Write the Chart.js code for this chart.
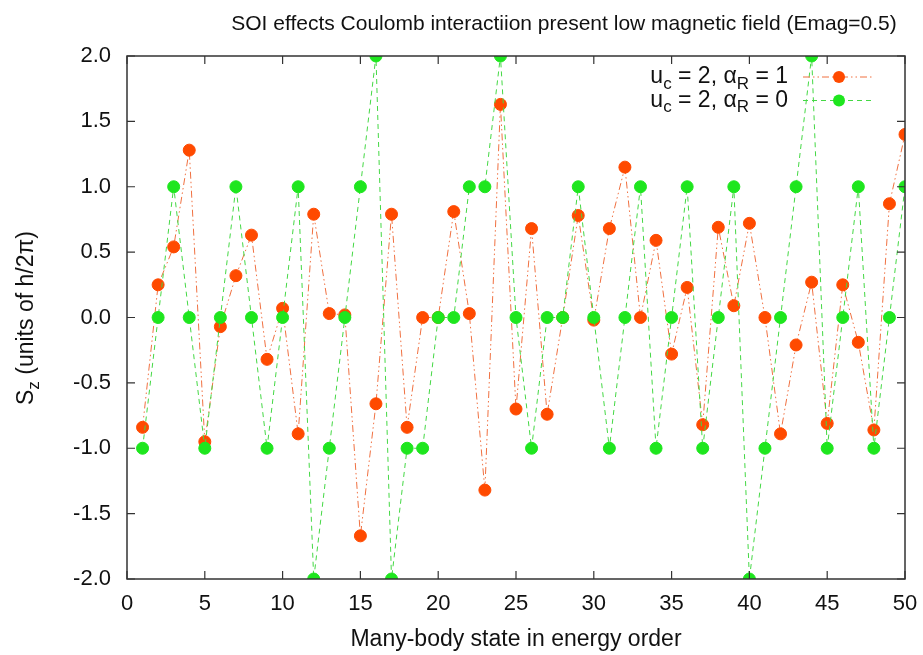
<!DOCTYPE html>
<html>
<head>
<meta charset="utf-8">
<script src="https://cdn.jsdelivr.net/npm/chart.js@4"></script>
<style>
  body { margin: 0; background: #fff; }
</style>
</head>
<body>
<canvas id="myChart" width="923" height="655"></canvas>
<script>
// state index 1..50
const states = [1,2,3,4,5,6,7,8,9,10,11,12,13,14,15,16,17,18,19,20,21,22,23,24,25,
  26,27,28,29,30,31,32,33,34,35,36,37,38,39,40,41,42,43,44,45,46,47,48,49,50];

// u_c = 2, alpha_R = 1
const szRashba = [-0.84, 0.25, 0.54, 1.28, -0.95, -0.07, 0.32, 0.63, -0.32, 0.07,
  -0.89, 0.79, 0.03, 0.02, -1.67, -0.66, 0.79, -0.84, 0.0, 0.0,
  0.81, 0.03, -1.32, 1.63, -0.70, 0.68, -0.74, 0.0, 0.78, -0.02,
  0.68, 1.15, 0.0, 0.59, -0.28, 0.23, -0.82, 0.69, 0.09, 0.72,
  0.0, -0.89, -0.21, 0.27, -0.81, 0.25, -0.19, -0.86, 0.87, 1.40];

// u_c = 2, alpha_R = 0
const szNoRashba = [-1, 0, 1, 0, -1, 0, 1, 0, -1, 0,
  1, -2, -1, 0, 1, 2, -2, -1, -1, 0,
  0, 1, 1, 2, 0, -1, 0, 0, 1, 0,
  -1, 0, 1, -1, 0, 1, -1, 0, 1, -2,
  -1, 0, 1, 2, -1, 0, 1, -1, 0, 1];

const xTicks = [0, 5, 10, 15, 20, 25, 30, 35, 40, 45, 50];
const yTicks = [-2.0, -1.5, -1.0, -0.5, 0.0, 0.5, 1.0, 1.5, 2.0];

const redPt = '#ff4a00', redLine = '#f07040';
const greenPt = '#1ee61e', greenLine = '#44d844';
const FONT = "'Liberation Sans', Arial, sans-serif";

const toXY = (ys) => states.map((x, i) => ({ x: x, y: ys[i] }));

// gnuplot look: frame, inside ticks, titles and legend with subscripts
const decor = {
  id: 'decor',
  afterDatasetsDraw(chart) {
    const c = chart.ctx;
    const a = chart.chartArea;
    const xs = chart.scales.x, ys = chart.scales.y;
    c.save();
    c.strokeStyle = '#333';
    c.lineWidth = 1.5;
    c.strokeRect(a.left, a.top, a.right - a.left, a.bottom - a.top);
    c.lineWidth = 1.2;
    c.beginPath();
    xTicks.forEach(v => {
      const px = xs.getPixelForValue(v);
      c.moveTo(px, a.bottom); c.lineTo(px, a.bottom - 8);
      c.moveTo(px, a.top); c.lineTo(px, a.top + 8);
    });
    yTicks.forEach(v => {
      const py = ys.getPixelForValue(v);
      c.moveTo(a.left, py); c.lineTo(a.left + 8, py);
      c.moveTo(a.right, py); c.lineTo(a.right - 8, py);
    });
    c.stroke();

    c.fillStyle = '#111';
    c.textBaseline = 'middle';
    // title
    c.font = '21px ' + FONT;
    c.textAlign = 'center';
    c.fillText('SOI effects Coulomb interactiion present low magnetic field (Emag=0.5)', 564, 24);
    // x title
    c.font = '23px ' + FONT;
    c.fillText('Many-body state in energy order', (a.left + a.right) / 2, 640);

    // y title, rotated
    c.save();
    c.translate(27, 318);
    c.rotate(-Math.PI / 2);
    drawRich(c, [['S', 0], ['z', 1], [' (units of h/2\u03c0)', 0]], 0, 0, 'center', 23);
    c.restore();

    // legend
    const rows = [
      { parts: [['u', 0], ['c', 1], [' = 2, \u03b1', 0], ['R', 1], [' = 1', 0]], pt: redPt, ln: redLine, dash: [7, 3, 1.5, 3, 1.5, 3] },
      { parts: [['u', 0], ['c', 1], [' = 2, \u03b1', 0], ['R', 1], [' = 0', 0]], pt: greenPt, ln: greenLine, dash: [5, 4] }
    ];
    rows.forEach((r, i) => {
      const y = 77 + i * 23.5;
      drawRich(c, r.parts, 788, y, 'right', 23);
      c.strokeStyle = r.ln;
      c.lineWidth = 1;
      c.setLineDash(r.dash);
      c.beginPath(); c.moveTo(803, y); c.lineTo(873, y); c.stroke();
      c.setLineDash([]);
      c.fillStyle = r.pt;
      c.beginPath(); c.arc(839, y, 6, 0, Math.PI * 2); c.fill();
      c.fillStyle = '#111';
    });
    c.restore();
  }
};

function drawRich(c, parts, x, y, align, size) {
  const sub = Math.round(size * 0.72);
  let w = 0;
  parts.forEach(p => {
    c.font = (p[1] ? sub : size) + 'px ' + FONT;
    w += c.measureText(p[0]).width;
  });
  let cx = align === 'right' ? x - w : (align === 'center' ? x - w / 2 : x);
  c.textAlign = 'left';
  parts.forEach(p => {
    c.font = (p[1] ? sub : size) + 'px ' + FONT;
    c.fillText(p[0], cx, p[1] ? y + size * 0.3 : y);
    cx += c.measureText(p[0]).width;
  });
}

const ctx = document.getElementById('myChart');

new Chart(ctx, {
  type: 'line',
  data: {
    datasets: [{
      label: 'u_c = 2, alpha_R = 1',
      data: toXY(szRashba),
      order: 1,
      borderColor: redLine,
      borderWidth: 1,
      borderDash: [7, 3, 1.5, 3, 1.5, 3],
      pointBackgroundColor: redPt,
      pointBorderColor: redPt,
      pointRadius: 6,
      pointBorderWidth: 1,
      tension: 0
    }, {
      label: 'u_c = 2, alpha_R = 0',
      data: toXY(szNoRashba),
      order: 0,
      borderColor: greenLine,
      borderWidth: 1,
      borderDash: [5, 4],
      pointBackgroundColor: greenPt,
      pointBorderColor: greenPt,
      pointRadius: 6,
      pointBorderWidth: 1,
      tension: 0
    }]
  },
  options: {
    responsive: false,
    animation: false,
    layout: { padding: { top: 56, right: 18, left: 0, bottom: 0 } },
    plugins: {
      legend: { display: false },
      title: { display: false },
      tooltip: { enabled: false }
    },
    scales: {
      x: {
        type: 'linear',
        min: 0,
        max: 50,
        afterBuildTicks: (s) => { s.ticks = xTicks.map(v => ({ value: v })); },
        afterFit: (s) => { s.height = 76; s.paddingLeft = 0; s.paddingRight = 0; },
        grid: { display: false, drawTicks: false },
        border: { display: false },
        ticks: { padding: 12, color: '#111', font: { family: FONT, size: 22 }, maxRotation: 0 }
      },
      y: {
        min: -2,
        max: 2,
        afterBuildTicks: (s) => { s.ticks = yTicks.map(v => ({ value: v })); },
        afterFit: (s) => { s.width = 127; s.paddingTop = 0; s.paddingBottom = 0; },
        grid: { display: false, drawTicks: false },
        border: { display: false },
        ticks: {
          padding: 16, color: '#111', font: { family: FONT, size: 22 },
          callback: (v) => Number(v).toFixed(1)
        }
      }
    }
  },
  plugins: [decor]
});
</script>
</body>
</html>
